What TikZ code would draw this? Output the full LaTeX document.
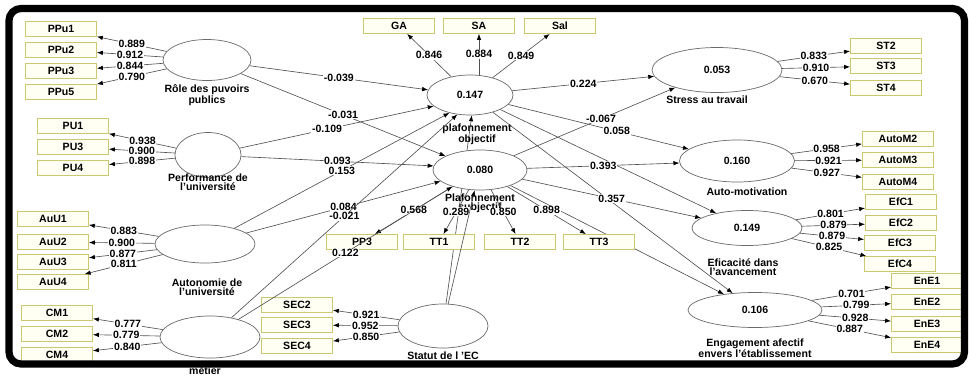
\documentclass[tikz,border=0pt]{standalone}
\usepackage{fontspec}
\setmainfont{Liberation Sans}
\usetikzlibrary{arrows.meta,positioning,shapes.geometric,backgrounds}
\definecolor{BoxLine}{HTML}{CCC870}
\definecolor{BoxFill}{HTML}{FFFFF4}
\definecolor{LinkGrey}{HTML}{505050}
\definecolor{LvGrey}{HTML}{6A6A6A}
\newcommand{\plsfont}{\fontsize{7.5}{6.6}\selectfont\bfseries}

\begin{document}
\begin{tikzpicture}[
  x=0.025cm, y=-0.025cm,
  font=\plsfont,
  lv/.style={ellipse, draw=LvGrey, fill=white, inner sep=0pt, line width=0.5pt},
  ind/.style={draw=BoxLine, fill=BoxFill, minimum width=1.775cm, minimum height=0.375cm, inner sep=0pt, line width=0.6pt},
  lvname/.style={align=center, inner sep=0pt},
  val/.style={fill=white, inner sep=0.5pt},
  link/.style={draw=LinkGrey, line width=0.45pt, -{Latex[length=4.2pt,width=3.2pt,color=black]}}
]
\useasboundingbox (0,0) rectangle (969,376);

% latent variables
\node[lv, minimum width=2.2cm, minimum height=1.025cm] (role) at (207,60) {};
\node[lv, minimum width=1.65cm, minimum height=1.125cm] (perf) at (208,155) {};
\node[lv, minimum width=2.5cm, minimum height=0.95cm] (auton) at (205,244) {};
\node[lv, minimum width=2.5cm, minimum height=1.05cm] (metier) at (210,337) {};
\node[lv, minimum width=2.25cm, minimum height=1.1cm] (statut) at (443,326) {};
\node[lv, minimum width=2.15cm, minimum height=1cm] (objectif) at (470,95) {0.147};
\node[lv, minimum width=2.35cm, minimum height=1cm] (subjectif) at (480,170) {0.080};
\node[lv, minimum width=3.25cm, minimum height=1.125cm] (stress) at (717,70) {0.053};
\node[lv, minimum width=2.875cm, minimum height=1.05cm] (automot) at (737,161) {0.160};
\node[lv, minimum width=2.75cm, minimum height=0.875cm] (efficacite) at (747,228) {0.149};
\node[lv, minimum width=3.35cm, minimum height=0.875cm] (engagement) at (755,310) {0.106};

\node[lvname] (rolename) at (207,95) {Rôle des puvoirs\\publics};
\node[lvname] (perfname) at (208,182) {Performance de\\l'université};
\node[lvname] (autonname) at (207,287) {Autonomie de\\l'université};
\node[lvname] (metiername) at (205,371) {métier};
\node[lvname] (statutname) at (443,356) {Statut de l 'EC};
\node[lvname] (objname) at (477,134) {plafonnement\\objectif};
\node[lvname] (subjname) at (480,203) {Plafonnement\\subjectif};
\node[lvname] (stressname) at (707,100) {Stress au travail};
\node[lvname] (autoname) at (747,192) {Auto-motivation};
\node[lvname] (effname) at (743,267) {Eficacité dans\\l'avancement};
\node[lvname] (engname) at (755,348) {Engagement afectif\\envers l'établissement};

% indicators
\node[ind] (PPu1) at (61,29) {PPu1};
\node[ind] (PPu2) at (61,50) {PPu2};
\node[ind] (PPu3) at (61,71) {PPu3};
\node[ind] (PPu5) at (61,92) {PPu5};
\node[ind] (PU1) at (73,126) {PU1};
\node[ind] (PU3) at (73,147) {PU3};
\node[ind] (PU4) at (73,168) {PU4};
\node[ind] (AuU1) at (53,219) {AuU1};
\node[ind] (AuU2) at (53,242) {AuU2};
\node[ind] (AuU3) at (53,262) {AuU3};
\node[ind] (AuU4) at (53,282) {AuU4};
\node[ind] (CM1) at (57,313) {CM1};
\node[ind] (CM2) at (57,334) {CM2};
\node[ind] (CM4) at (57,355) {CM4};
\node[ind] (SEC2) at (297,305) {SEC2};
\node[ind] (SEC3) at (297,325) {SEC3};
\node[ind] (SEC4) at (297,346) {SEC4};
\node[ind] (GA) at (399,26) {GA};
\node[ind] (SA) at (479,26) {SA};
\node[ind] (Sal) at (560,26) {Sal};
\node[ind] (PP3) at (362,242) {PP3};
\node[ind] (TT1) at (439,242) {TT1};
\node[ind] (TT2) at (520,242) {TT2};
\node[ind] (TT3) at (599,242) {TT3};
\node[ind] (ST2) at (886,46) {ST2};
\node[ind] (ST3) at (886,66) {ST3};
\node[ind] (ST4) at (886,88) {ST4};
\node[ind] (AutoM2) at (898,139) {AutoM2};
\node[ind] (AutoM3) at (898,160) {AutoM3};
\node[ind] (AutoM4) at (898,182) {AutoM4};
\node[ind] (EfC1) at (901,202) {EfC1};
\node[ind] (EfC2) at (901,223) {EfC2};
\node[ind] (EfC3) at (900,243) {EfC3};
\node[ind] (EfC4) at (900,264) {EfC4};
\node[ind] (EnE1) at (927,281) {EnE1};
\node[ind] (EnE2) at (927,302) {EnE2};
\node[ind] (EnE3) at (927,324) {EnE3};
\node[ind] (EnE4) at (927,345) {EnE4};

% outer loadings
\draw[link] (role) -- node[val] {0.889} (PPu1);
\draw[link] (role) -- node[val] {0.912} (PPu2);
\draw[link] (role) -- node[val] {0.844} (PPu3);
\draw[link] (role) -- node[val] {0.790} (PPu5);
\draw[link] (perf) -- node[val] {0.938} (PU1);
\draw[link] (perf) -- node[val] {0.900} (PU3);
\draw[link] (perf) -- node[val] {0.898} (PU4);
\draw[link] (auton) -- node[val] {0.883} (AuU1);
\draw[link] (auton) -- node[val] {0.900} (AuU2);
\draw[link] (auton) -- node[val] {0.877} (AuU3);
\draw[link] (auton) -- node[val] {0.811} (AuU4);
\draw[link] (metier) -- node[val] {0.777} (CM1);
\draw[link] (metier) -- node[val] {0.779} (CM2);
\draw[link] (metier) -- node[val] {0.840} (CM4);
\draw[link] (statut) -- node[val] {0.921} (SEC2);
\draw[link] (statut) -- node[val] {0.952} (SEC3);
\draw[link] (statut) -- node[val] {0.850} (SEC4);
\draw[link] (objectif) -- node[val] {0.846} (GA);
\draw[link] (objectif.north -| SA) -- node[val] {0.884} (SA);
\draw[link] (objectif) -- node[val] {0.849} (Sal);
\draw[link] (subjectif) -- node[val] {0.568} (PP3);
\draw[link] (subjectif) -- node[val] {0.289} (TT1);
\draw[link] (subjectif) -- node[val] {0.850} (TT2);
\draw[link] (subjectif) -- node[val] {0.898} (TT3);
\draw[link] (stress) -- node[val] {0.833} (ST2);
\draw[link] (stress) -- node[val] {0.910} (ST3);
\draw[link] (stress) -- node[val] {0.670} (ST4);
\draw[link] (automot) -- node[val] {0.958} (AutoM2);
\draw[link] (automot) -- node[val] {0.921} (AutoM3);
\draw[link] (automot) -- node[val] {0.927} (AutoM4);
\draw[link] (efficacite) -- node[val] {0.801} (EfC1);
\draw[link] (efficacite) -- node[val] {0.879} (EfC2);
\draw[link] (efficacite) -- node[val] {0.879} (EfC3);
\draw[link] (efficacite) -- node[val] {0.825} (EfC4);
\draw[link] (engagement) -- node[val] {0.701} (EnE1);
\draw[link] (engagement) -- node[val] {0.799} (EnE2);
\draw[link] (engagement) -- node[val] {0.928} (EnE3);
\draw[link] (engagement) -- node[val] {0.887} (EnE4);

% path coefficients
\draw[link] (role) -- node[val] {-0.039} (objectif.173);
\draw[link] (role) -- node[val] {-0.031} (subjectif.158);
\draw[link] (perf) -- node[val, pos=0.45] {-0.109} (objectif.197);
\draw[link] (perf) -- node[val] {0.093} (subjectif.175);
\draw[link] (auton) -- node[val] {0.153} (objectif.221);
\draw[link] (auton) -- node[val] {0.084} (subjectif.196);
\draw[link] (metier) -- node[val] {-0.021} (objectif.237);
\draw[link] (metier) -- node[val] {0.122} (subjectif.211);
\draw[link] (statut) -- (subjectif.255);
\begin{pgfonlayer}{background}
  \draw[link] (statut) -- (objectif.275);
  \draw[link] (subjectif) -- (engagement);
\end{pgfonlayer}
\draw[link] (objectif) -- node[val] {0.224} (stress);
\draw[link] (subjectif) -- node[val, pos=0.54] {-0.067} (stress);
\draw[link] (objectif) -- node[val, pos=0.6] {0.058} (automot);
\draw[link] (objectif) -- (efficacite);
\draw[link] (objectif) -- (engagement);
\draw[link] (subjectif) -- node[val] {0.393} (automot);
\draw[link] (subjectif) -- node[val] {0.357} (efficacite);

% frame
\draw[line width=0.18cm, rounded corners=0.3cm] (9,8.5) rectangle (964.5,364);
\end{tikzpicture}
\end{document}
